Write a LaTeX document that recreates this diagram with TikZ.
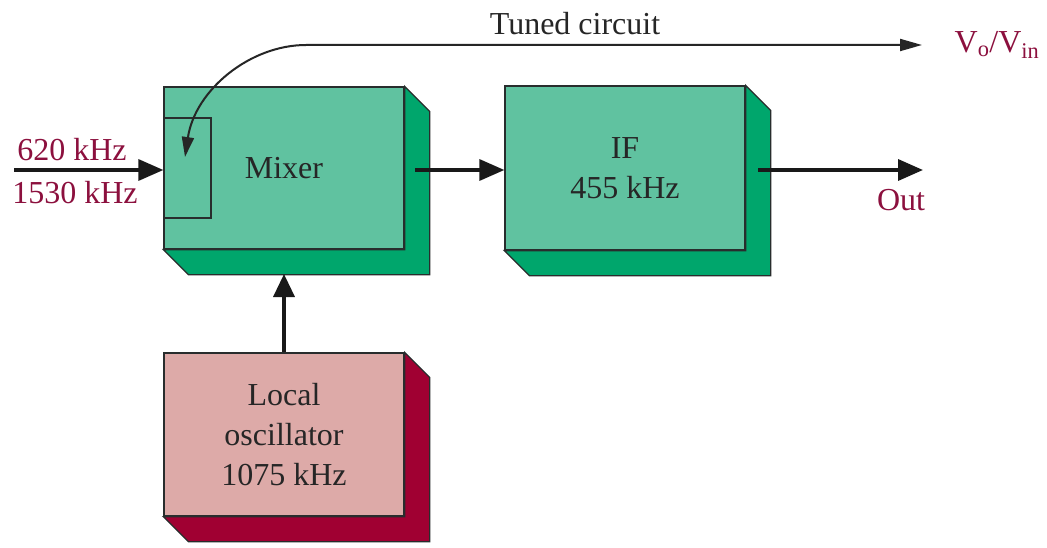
\documentclass[tikz,border=0pt]{standalone}
\usepackage{fontspec}
\setmainfont{Liberation Serif}
\usetikzlibrary{arrows.meta,calc,backgrounds}
\definecolor{gfront}{RGB}{96,194,160}
\definecolor{gshade}{RGB}{0,166,108}
\definecolor{pfront}{RGB}{221,170,168}
\definecolor{pshade}{RGB}{160,0,50}
\definecolor{lab}{RGB}{140,16,62}
\definecolor{edgec}{RGB}{40,45,45}
\begin{document}
\begin{tikzpicture}[x=1pt,y=-1pt,
  blk/.style={draw=edgec, line width=1.3pt, minimum width=240pt, inner sep=0pt, align=center, font=\fontsize{32}{40}\selectfont, text=black!85},
  shade/.style={draw=edgec, line width=1.3pt, line join=miter},
  big/.style={-{Triangle[length=25pt,width=21pt]}, line width=3.5pt, draw=black!90},
  thinarr/.style={line width=2pt, draw=black!85},
  lbl/.style={text=lab, font=\fontsize{32}{40}\selectfont, inner sep=0pt}]
\useasboundingbox (0,0) rectangle (1047,548);
% blocks
\node[blk, fill=gfront, minimum height=162pt] (mixer) at (284,168) {Mixer};
\node[blk, fill=gfront, minimum height=164pt] (if) at (625,168) {IF\\455 kHz};
\node[blk, fill=pfront, minimum height=163pt] (lo) at (284,434.5) {Local\\oscillator\\1075 kHz};
\node[draw=edgec, line width=1.3pt, minimum width=47pt, minimum height=100pt, inner sep=0pt] (tank) at (187.5,168) {};
% shadows
\begin{scope}[on background layer]
  \fill[white] (0,0) rectangle (1047,548);
  \foreach \b/\c in {mixer/gshade, if/gshade, lo/pshade}{
    \draw[shade, fill=\c] (\b.north east) -- ++(25,25) -- ($(\b.south east)+(25,25)$)
      -- ($(\b.south west)+(25,25)$) -- (\b.south west) -- (\b.south east) -- cycle;
  }
\end{scope}
% labels
\node[lbl] (f1) at (72,150) {620 kHz};
\node[lbl] (f2) at (75,193) {1530 kHz};
\node[lbl] (out) at (901,200) {Out};
\node[lbl] (vv) at (997,45) {V\textsubscript{o}/V\textsubscript{in}};
\node[inner sep=0pt, font=\fontsize{32}{40}\selectfont, text=black!85] (tc) at (575,24) {Tuned circuit};
% coordinates
\coordinate (in) at (14,170);
\coordinate (mout) at (415,170);
\coordinate (ifout) at (758,170);
\coordinate (outend) at (923,170);
\coordinate (mbot) at (284,274);
\coordinate (tip) at (185,157);
\coordinate (tcr) at (922,45);
\coordinate (tcl) at (306,45);
% connectors
\draw[big] (in) -- (in -| mixer.west);
\draw[big] (mout) -- (mout -| if.west);
\draw[big] (ifout) -- (outend);
\draw[big, -{Triangle[length=23pt,width=21pt]}] (lo.north) -- (mbot);
\draw[thinarr, {Triangle[length=20pt,width=12pt]}-{Triangle[length=22pt,width=12pt]}]
  (tip) .. controls (195,90) and (250,45) .. (tcl) -- (tcr);
\end{tikzpicture}
\end{document}
